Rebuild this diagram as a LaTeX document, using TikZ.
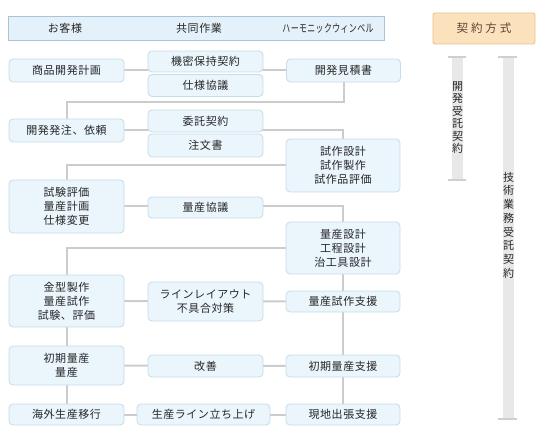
\documentclass[tikz,border=0pt]{standalone}
\usepackage{fontspec}
\setmainfont{Noto Sans CJK JP}
\usetikzlibrary{backgrounds}

\definecolor{boxfill}{HTML}{EAF5FC}
\definecolor{boxline}{HTML}{C6DCE8}
\definecolor{boxtext}{HTML}{262626}
\definecolor{headfill}{HTML}{E4F1FA}
\definecolor{headline}{HTML}{A9C4D6}
\definecolor{formfill}{HTML}{FBE2BC}
\definecolor{formline}{HTML}{E6C189}
\definecolor{formtext}{HTML}{5A4632}
\definecolor{linkgray}{HTML}{CCCCCC}
\definecolor{bargray}{HTML}{E8E8E8}
\definecolor{capgray}{HTML}{CFCFCF}

\begin{document}
\begin{tikzpicture}[x=1pt,y=-1pt,line cap=butt,
  flowbox/.style={draw=boxline,fill=boxfill,rounded corners=4pt,line width=0.8pt,
    text=boxtext,align=center,inner sep=0pt,minimum width=115pt,
    font=\fontsize{11}{14}\selectfont\addfontfeature{LetterSpace=5}},
  headtext/.style={text=boxtext,font=\fontsize{11}{13}\selectfont\addfontfeature{LetterSpace=5}},
  vtext/.style={align=center,inner sep=0pt,text=black!85,font=\fontsize{11}{#1}\selectfont},
  link/.style={draw=linkgray,line width=2pt}]
\useasboundingbox (0,0) rectangle (540,443);

% header
\node[draw=headline,fill=headfill,line width=0.8pt,minimum width=376pt,minimum height=24pt] (head) at (196,28) {};
\node[headtext] (hcust) at (65,28) {お客様};
\node[headtext] (hjoint) at (199,28) {共同作業};
\node[headtext] (hwb) at (328,28) {\scalebox{0.72}[1]{ハーモニックウィンベル}};
\node[draw=formline,fill=formfill,rounded corners=2pt,line width=0.8pt,minimum width=102pt,minimum height=31pt,
  text=formtext,font=\fontsize{11.5}{13}\selectfont\addfontfeature{LetterSpace=25}] (form) at (484,28.5) {契約方式};

% customer column
\node[flowbox,minimum height=23pt] (c1) at (66.5,70.5) {商品開発計画};
\node[flowbox,minimum height=23pt] (c2) at (66.5,130.5) {開発発注、依頼};
\node[flowbox,minimum height=53pt] (c3) at (66.5,206.5) {試験評価\\量産計画\\仕様変更};
\node[flowbox,minimum height=52pt] (c4) at (66.5,301) {金型製作\\量産試作\\試験、評価};
\node[flowbox,minimum height=39pt] (c5) at (66.5,365.5) {初期量産\\量産};
\node[flowbox,minimum height=21pt] (c6) at (66.5,414.5) {海外生産移行};

% joint column
\node[flowbox,minimum height=21pt] (j1) at (205.5,61.5) {機密保持契約};
\node[flowbox,minimum height=22pt] (j2) at (205.5,85.5) {仕様協議};
\node[flowbox,minimum height=22pt] (j3) at (205.5,121) {委託契約};
\node[flowbox,minimum height=23pt] (j4) at (205.5,145.5) {注文書};
\node[flowbox,minimum height=21pt] (j5) at (205.5,207.5) {量産協議};
\node[flowbox,minimum height=39pt] (j6) at (205.5,301.5) {ラインレイアウト\\不具合対策};
\node[flowbox,minimum height=22pt] (j7) at (205.5,366) {改善};
\node[flowbox,minimum width=133pt,minimum height=21pt] (j8) at (203.5,414.5) {生産ライン立ち上げ};

% harmonic column
\node[flowbox,minimum width=114pt,minimum height=23pt] (h1) at (343.5,70.5) {開発見積書};
\node[flowbox,minimum width=114pt,minimum height=53pt] (h2) at (343,165.5) {試作設計\\試作製作\\試作品評価};
\node[flowbox,minimum width=114pt,minimum height=52pt] (h3) at (343,248) {量産設計\\工程設計\\治工具設計};
\node[flowbox,minimum width=114pt,minimum height=21pt] (h4) at (343,301.5) {量産試作支援};
\node[flowbox,minimum width=114pt,minimum height=22pt] (h5) at (343,366) {初期量産支援};
\node[flowbox,minimum width=114pt,minimum height=21pt] (h6) at (343,414.5) {現地出張支援};

% connectors
\begin{scope}[on background layer]
\draw[link] (c1.east) -- (h1.west);
\draw[link] (h1.south) -- ++(0,20) -| (c2.north);
\draw[link] (c2.east) -| (h2.north);
\draw[link] (h2.west) -| (c3.north);
\draw[link] (c3.east) -| (h3.north);
\draw[link] (h3.west) -| (c4.north);
\draw[link] (c4.east) -- (h4.west);
\draw[link] (h3.south) -- (h4.north);
\draw[link] (h4.south) -- (h5.north);
\draw[link] (h5.south) -- (h6.north);
\draw[link] (c4.south) -- (c5.north);
\draw[link] (c5.south) -- (c6.north);
\draw[link] (c5.east) -- (h5.west);
\draw[link] (c6.east) -- (h6.west);
\end{scope}

% contract bars
\fill[bargray] (452,57) rectangle (463,180);
\draw[capgray,line width=2pt] (448,57) -- (466,57);
\draw[capgray,line width=2pt] (448,180) -- (466,180);
\fill[bargray] (503,57) rectangle (514,419);
\draw[capgray,line width=2pt] (498,57) -- (517,57);
\draw[capgray,line width=2pt] (498,419) -- (517,419);
\node[vtext=12.5] (k1) at (457.5,117.5) {開\\発\\受\\託\\契\\約};
\node[vtext=13.75] (k2) at (508.5,225) {技\\術\\業\\務\\受\\託\\契\\約};
\end{tikzpicture}
\end{document}
